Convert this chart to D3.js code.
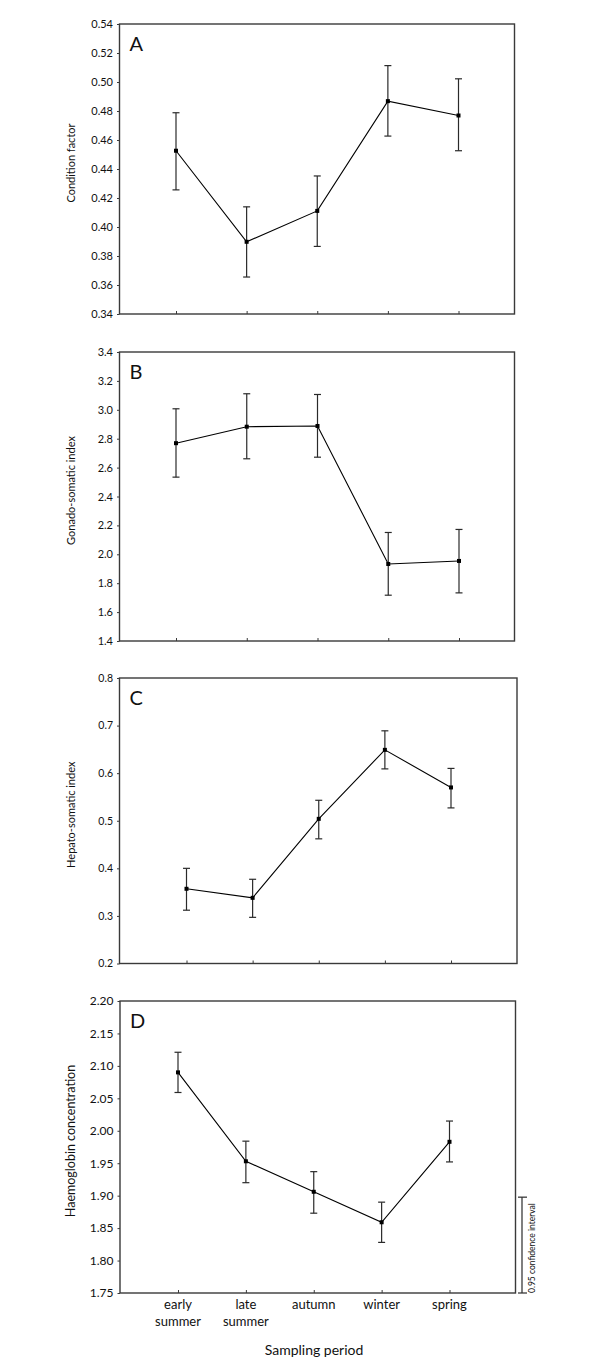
<!DOCTYPE html>
<html>
<head>
<meta charset="utf-8">
<script src="https://cdn.jsdelivr.net/npm/d3@7"></script>
<style>
  html, body { margin: 0; padding: 0; background: #fff; }
  svg { display: block; font-family: Lato, "Open Sans", sans-serif; }
</style>
</head>
<body>
<svg id="chart" width="600" height="1372"></svg>
<script>
// ---- data ----
const categories = ["early summer", "late summer", "autumn", "winter", "spring"];
const tickLabelLines = [["early", "summer"], ["late", "summer"], ["autumn"], ["winter"], ["spring"]];

const conditionMean = [0.4526, 0.3898, 0.4111, 0.4868, 0.4769];
const conditionLow  = [0.4256, 0.3655, 0.3866, 0.4627, 0.4526];
const conditionHigh = [0.4788, 0.4139, 0.4352, 0.5113, 0.5022];

const gonadoMean = [2.769, 2.883, 2.888, 1.933, 1.954];
const gonadoLow  = [2.534, 2.661, 2.672, 1.717, 1.733];
const gonadoHigh = [3.007, 3.111, 3.106, 2.151, 2.172];

const hepatoMean = [0.357, 0.338, 0.504, 0.649, 0.570];
const hepatoLow  = [0.312, 0.297, 0.462, 0.609, 0.527];
const hepatoHigh = [0.400, 0.377, 0.543, 0.689, 0.610];

const haemoMean = [2.090, 1.953, 1.906, 1.859, 1.983];
const haemoLow  = [2.059, 1.920, 1.873, 1.828, 1.952];
const haemoHigh = [2.121, 1.984, 1.937, 1.890, 2.015];

const conditionTicks = [0.34, 0.36, 0.38, 0.40, 0.42, 0.44, 0.46, 0.48, 0.50, 0.52, 0.54];
const gonadoTicks = [1.4, 1.6, 1.8, 2.0, 2.2, 2.4, 2.6, 2.8, 3.0, 3.2, 3.4];
const hepatoTicks = [0.2, 0.3, 0.4, 0.5, 0.6, 0.7, 0.8];
const haemoTicks = [1.75, 1.80, 1.85, 1.90, 1.95, 2.00, 2.05, 2.10, 2.15, 2.20];

const ciLegend = [1.75, 1.8977];  // bracket showing 0.95 CI width

// ---- panels (layout) ----
const panels = [
  { letter: "A", title: "Condition factor", mean: conditionMean, low: conditionLow, high: conditionHigh,
    ticks: conditionTicks, fmt: ".2f", top: 24, bottom: 314, left: 119.5, right: 514.5, x0: 176, x1: 458.5,
    fs: 11, titleFs: 11 },
  { letter: "B", title: "Gonado-somatic index", mean: gonadoMean, low: gonadoLow, high: gonadoHigh,
    ticks: gonadoTicks, fmt: ".1f", top: 352, bottom: 641, left: 119.5, right: 514.5, x0: 176, x1: 459,
    fs: 11, titleFs: 11 },
  { letter: "C", title: "Hepato-somatic index", mean: hepatoMean, low: hepatoLow, high: hepatoHigh,
    ticks: hepatoTicks, fmt: ".1f", top: 678, bottom: 963.5, left: 119.5, right: 517, x0: 186.5, x1: 451,
    fs: 10.5, titleFs: 11 },
  { letter: "D", title: "Haemoglobin concentration", mean: haemoMean, low: haemoLow, high: haemoHigh,
    ticks: haemoTicks, fmt: ".2f", top: 1001, bottom: 1293, left: 120, right: 515.5, x0: 178, x1: 449.5,
    fs: 12, titleFs: 12.5, last: true }
];

const svg = d3.select("#chart");
const frameColor = "#3a3a3a";

panels.forEach(p => {
  const g = svg.append("g");
  const x = d3.scalePoint().domain(categories).range([p.x0, p.x1]);
  const y = d3.scaleLinear().domain([p.ticks[0], p.ticks[p.ticks.length - 1]]).range([p.bottom, p.top]);

  // y axis
  const yAxis = g.append("g").attr("transform", `translate(${p.left},0)`)
    .call(d3.axisLeft(y).tickValues(p.ticks).tickFormat(d3.format(p.fmt)).tickSize(2.5).tickSizeOuter(0).tickPadding(4));
  yAxis.select(".domain").remove();
  yAxis.selectAll("line").attr("stroke", frameColor);
  yAxis.selectAll("text").attr("font-size", p.fs).attr("fill", "#111").attr("font-family", "Lato, sans-serif");

  // x axis (inward ticks)
  const xAxis = g.append("g").attr("transform", `translate(0,${p.bottom})`)
    .call(d3.axisBottom(x).tickSize(-3).tickSizeOuter(0).tickFormat(""));
  xAxis.select(".domain").remove();
  xAxis.selectAll("line").attr("stroke", frameColor);

  // frame
  g.append("rect").attr("x", p.left).attr("y", p.top)
    .attr("width", p.right - p.left).attr("height", p.bottom - p.top)
    .attr("fill", "none").attr("stroke", frameColor).attr("stroke-width", 1.4);

  // y title
  g.append("text")
    .attr("transform", `translate(${70},${(p.top + p.bottom) / 2 - 6}) rotate(-90)`)
    .attr("text-anchor", "middle").attr("dominant-baseline", "central")
    .attr("font-size", p.titleFs).attr("fill", "#111")
    .text(p.title);

  // panel letter
  g.append("text").attr("x", p.left + 10).attr("y", p.top + 27)
    .attr("font-size", 20).attr("fill", "#111").text(p.letter);

  const idx = d3.range(categories.length);

  // error bars
  const eb = g.append("g").attr("stroke", "#2a2a2a").attr("stroke-width", 1.2).attr("fill", "none");
  idx.forEach(i => {
    const cx = x(categories[i]);
    eb.append("line").attr("x1", cx).attr("x2", cx).attr("y1", y(p.low[i])).attr("y2", y(p.high[i]));
    eb.append("line").attr("x1", cx - 3.5).attr("x2", cx + 3.5).attr("y1", y(p.low[i])).attr("y2", y(p.low[i]));
    eb.append("line").attr("x1", cx - 3.5).attr("x2", cx + 3.5).attr("y1", y(p.high[i])).attr("y2", y(p.high[i]));
  });

  // line
  const line = d3.line().x(i => x(categories[i])).y(i => y(p.mean[i]));
  g.append("path").datum(idx).attr("d", line).attr("fill", "none").attr("stroke", "#000").attr("stroke-width", 1.1);

  // markers
  g.selectAll("rect.m").data(idx).enter().append("rect").attr("class", "m")
    .attr("x", i => x(categories[i]) - 2).attr("y", i => y(p.mean[i]) - 2)
    .attr("width", 4).attr("height", 4).attr("fill", "#000");

  if (p.last) {
    // category labels
    idx.forEach(i => {
      const t = g.append("text").attr("x", x(categories[i])).attr("y", p.bottom + 15.5)
        .attr("text-anchor", "middle").attr("font-size", 13).attr("fill", "#111");
      tickLabelLines[i].forEach((s, k) => {
        t.append("tspan").attr("x", x(categories[i])).attr("dy", k === 0 ? 0 : 17).text(s);
      });
    });
    // x title
    g.append("text").attr("x", 314).attr("y", p.bottom + 62)
      .attr("text-anchor", "middle").attr("font-size", 14).attr("fill", "#111")
      .text("Sampling period");

    // CI legend bracket
    const bx = 522;
    const b = g.append("g").attr("stroke", "#2a2a2a").attr("stroke-width", 1.2);
    b.append("line").attr("x1", bx).attr("x2", bx).attr("y1", y(ciLegend[0])).attr("y2", y(ciLegend[1]));
    b.append("line").attr("x1", bx - 4).attr("x2", bx + 5).attr("y1", y(ciLegend[0])).attr("y2", y(ciLegend[0]));
    b.append("line").attr("x1", bx - 4).attr("x2", bx + 5).attr("y1", y(ciLegend[1])).attr("y2", y(ciLegend[1]));
    g.append("text")
      .attr("transform", `translate(${bx + 6},${y(ciLegend[0])}) rotate(-90)`)
      .attr("dy", "0.78em").attr("text-anchor", "start")
      .attr("font-size", 8.5).attr("fill", "#111")
      .text("0.95 confidence interval");
  }
});
</script>
</body>
</html>
